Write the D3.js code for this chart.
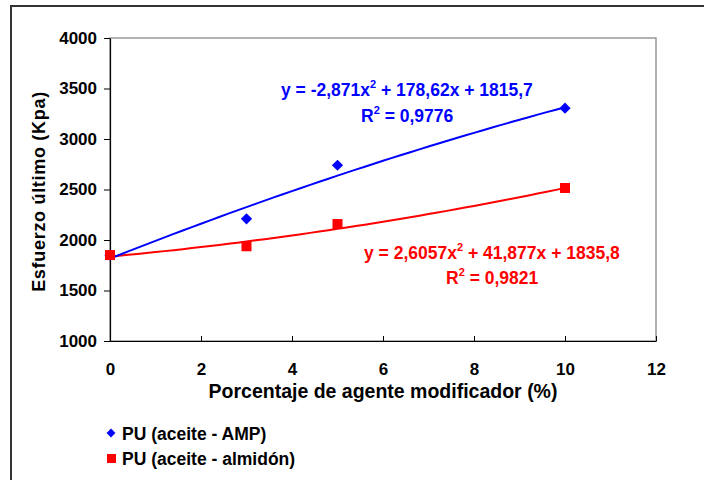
<!DOCTYPE html>
<html>
<head>
<meta charset="utf-8">
<script src="https://cdn.jsdelivr.net/npm/d3@7/dist/d3.min.js"></script>
<style>
  body { margin: 0; background: #fff; }
  text { font-family: "Liberation Sans", Arial, sans-serif; font-weight: bold; }
</style>
</head>
<body>
<div id="chartContainer"></div>
<script>
// data
var xTicks = [0, 2, 4, 6, 8, 10, 12];
var yTicks = [1000, 1500, 2000, 2500, 3000, 3500, 4000];
var pctValues = [0, 3, 5, 10];
var ampValues = [1850, 2210, 2740, 3305];
var almidonValues = [1851, 1938, 2158, 2515];
// trendline coefficients as printed on the chart (a, b, c for a*x^2 + b*x + c)
var ampFit = [-2.871, 178.62, 1815.7];
var almidonFit = [2.6057, 41.877, 1835.8];
var seriesNames = ["PU (aceite - AMP)", "PU (aceite - almidón)"];

var WIDTH = 704, HEIGHT = 480,
  MARGINS = { top: 38, right: 48, bottom: 139, left: 110 };

var svg = d3.select("#chartContainer").append("svg")
  .attr("width", WIDTH)
  .attr("height", HEIGHT);

// outer frame
svg.append("rect")
  .attr("x", 11).attr("y", 6)
  .attr("width", 720).attr("height", 500)
  .attr("fill", "none")
  .attr("stroke", "#333")
  .attr("stroke-width", 2);

var xRange = d3.scaleLinear().domain([0, 12]).range([MARGINS.left, WIDTH - MARGINS.right]);
var yRange = d3.scaleLinear().domain([1000, 4000]).range([HEIGHT - MARGINS.bottom, MARGINS.top]);

// plot frame (top/right gray)
svg.append("rect")
  .attr("x", xRange(0)).attr("y", yRange(4000))
  .attr("width", xRange(12) - xRange(0))
  .attr("height", yRange(1000) - yRange(4000))
  .attr("fill", "none")
  .attr("stroke", "#999")
  .attr("stroke-width", 1.5);

var xAxis = d3.axisBottom(xRange).tickValues(xTicks).tickFormat(d3.format("d"))
  .tickSize(-5).tickPadding(22).tickSizeOuter(0);
var yAxis = d3.axisLeft(yRange).tickValues(yTicks).tickFormat(d3.format("d"))
  .tickSize(6).tickPadding(7).tickSizeOuter(0);

var gx = svg.append("g")
  .attr("transform", "translate(0," + yRange(1000) + ")")
  .call(xAxis);
var gy = svg.append("g")
  .attr("transform", "translate(" + xRange(0) + ",0)")
  .call(yAxis);

[gx, gy].forEach(function (g) {
  g.select(".domain").attr("stroke", "#000").attr("stroke-width", 1.2);
  g.selectAll(".tick line").attr("stroke", "#000");
  g.selectAll(".tick text")
    .attr("fill", "#000")
    .style("font-size", "17px")
    .style("font-family", "'Liberation Sans', Arial, sans-serif");
});

// axis titles
svg.append("text")
  .attr("x", (xRange(0) + xRange(12)) / 2)
  .attr("y", 398)
  .attr("text-anchor", "middle")
  .style("font-size", "19.5px")
  .text("Porcentaje de agente modificador (%)");

svg.append("text")
  .attr("transform", "translate(45," + ((yRange(1000) + yRange(4000)) / 2 + 2) + ") rotate(-90)")
  .attr("text-anchor", "middle")
  .style("font-size", "18px")
  .style("letter-spacing", "0.7px")
  .text("Esfuerzo último (Kpa)");

// trendlines
function curvePoints(fit) {
  var pts = [];
  for (var i = 0; i <= 50; i++) {
    var x = 10 * i / 50;
    pts.push({ x: x, y: fit[0] * x * x + fit[1] * x + fit[2] });
  }
  return pts;
}

var lineFunc = d3.line()
  .x(function (d) { return xRange(d.x); })
  .y(function (d) { return yRange(d.y); });

svg.append("path")
  .attr("d", lineFunc(curvePoints(almidonFit)))
  .attr("stroke", "#ff0000")
  .attr("stroke-width", 2)
  .attr("fill", "none");

svg.append("path")
  .attr("d", lineFunc(curvePoints(ampFit)))
  .attr("stroke", "#0000ff")
  .attr("stroke-width", 2)
  .attr("fill", "none");

// markers
var diamond = d3.symbol().type(d3.symbolDiamond2).size(80);
svg.append("g").selectAll("path")
  .data(pctValues)
  .enter().append("path")
  .attr("d", diamond)
  .attr("transform", function (d, i) { return "translate(" + xRange(d) + "," + yRange(ampValues[i]) + ")"; })
  .attr("fill", "#0000ff");

svg.append("g").selectAll("rect")
  .data(pctValues)
  .enter().append("rect")
  .attr("x", function (d) { return xRange(d) - 5; })
  .attr("y", function (d, i) { return yRange(almidonValues[i]) - 5; })
  .attr("width", 10).attr("height", 10)
  .attr("fill", "#ff0000");

// equation labels
function eqLabel(x, y, color, a, b, c) {
  var t = svg.append("text").attr("x", x).attr("y", y).attr("fill", color).style("font-size", "17.5px");
  t.append("tspan").text("y = " + a + "x");
  t.append("tspan").attr("dy", -8).style("font-size", "11px").text("2");
  t.append("tspan").attr("dy", 8).text(" + " + b + "x + " + c);
}
function r2Label(x, y, color, r) {
  var t = svg.append("text").attr("x", x).attr("y", y).attr("fill", color).style("font-size", "17.5px");
  t.append("tspan").text("R");
  t.append("tspan").attr("dy", -8).style("font-size", "11px").text("2");
  t.append("tspan").attr("dy", 8).text(" = " + r);
}
eqLabel(281, 96, "#0000ff", "-2,871", "178,62", "1815,7");
r2Label(361, 122, "#0000ff", "0,9776");
eqLabel(364, 259, "#ff0000", "2,6057", "41,877", "1835,8");
r2Label(446, 284, "#ff0000", "0,9821");

// legend
var legend = svg.append("g");
legend.append("path")
  .attr("d", d3.symbol().type(d3.symbolDiamond2).size(50))
  .attr("transform", "translate(111,433)")
  .attr("fill", "#0000ff");
legend.append("rect")
  .attr("x", 107).attr("y", 454).attr("width", 9).attr("height", 9)
  .attr("fill", "#ff0000");
legend.selectAll("text")
  .data(seriesNames)
  .enter().append("text")
  .attr("x", 122)
  .attr("y", function (d, i) { return 440 + i * 25; })
  .style("font-size", "17.5px")
  .text(function (d) { return d; });
</script>
</body>
</html>
